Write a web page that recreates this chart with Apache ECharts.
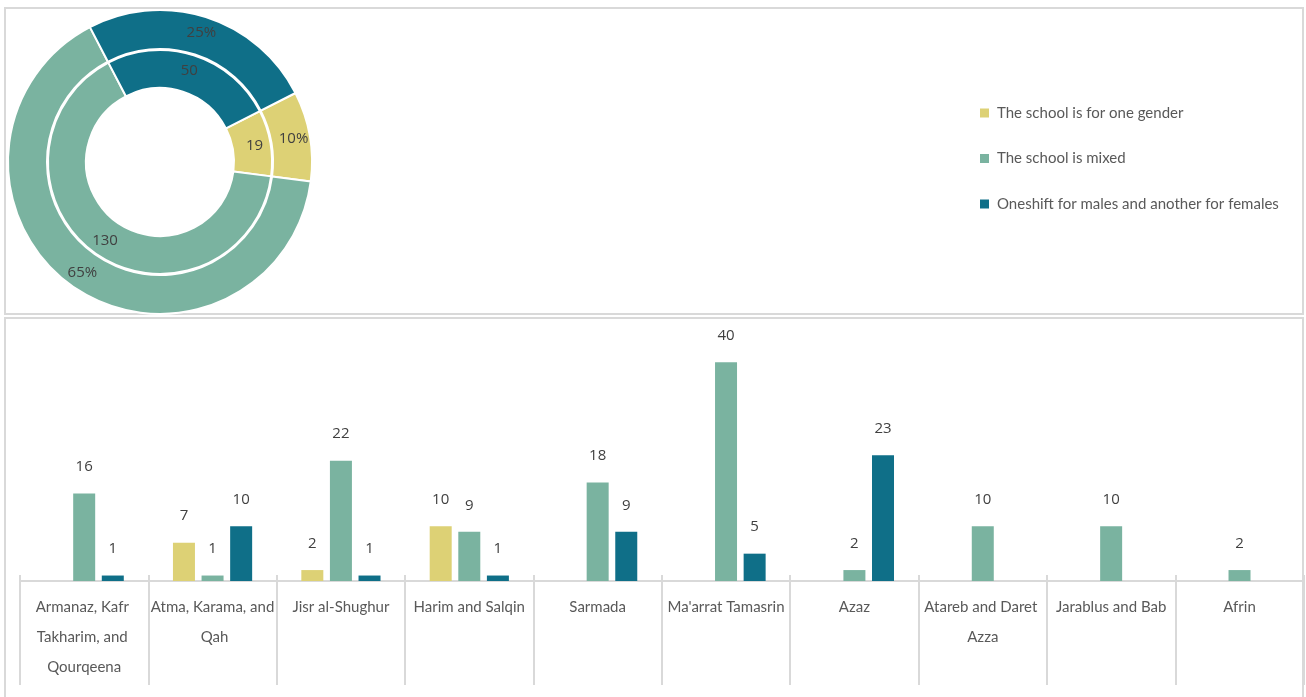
<!DOCTYPE html>
<html>
<head>
<meta charset="utf-8">
<script src="https://cdn.jsdelivr.net/npm/echarts@6/dist/echarts.min.js"></script>
<style>
  html, body { margin: 0; padding: 0; background: #fff; }
  #chart { width: 1306px; height: 697px; }
</style>
</head>
<body>
<div id="chart"></div>
<script>
// 学校类型 - series names and colours
var seriesNames = ['The school is for one gender', 'The school is mixed', 'Oneshift for males and another for females'];
var seriesColors = ['#DDD175', '#7AB3A0', '#0F6F88'];

// donut totals (inner ring counts, outer ring shows percent of the same)
var totals = [19, 130, 50];

// bar chart by area
var areas = ['Armanaz, Kafr Takharim, and Qourqeena', 'Atma, Karama, and Qah', 'Jisr al-Shughur', 'Harim and Salqin',
  'Sarmada', "Ma'arrat Tamasrin", 'Azaz', 'Atareb and Daret Azza', 'Jarablus and Bab', 'Afrin'];
var oneGender = [0, 7, 2, 10, 0, 0, 0, 0, 0, 0];
var mixed     = [16, 1, 22, 9, 18, 40, 2, 10, 10, 2];
var twoShifts = [1, 10, 1, 1, 9, 5, 23, 0, 0, 0];

var labelColor = '#404040';
var axisColor = '#D9D9D9';
var textColor = '#595959';

var myChart = echarts.init(document.getElementById('chart'));

var pieData = totals.map(function (v, i) {
  return { name: seriesNames[i], value: v, itemStyle: { color: seriesColors[i] } };
});

function barSeries(idx, data) {
  return {
    name: seriesNames[idx],
    type: 'bar',
    xAxisIndex: 0,
    yAxisIndex: 0,
    barWidth: 22,
    barGap: '30%',
    itemStyle: { color: seriesColors[idx] },
    label: {
      show: true,
      position: 'top',
      distance: 19,
      fontFamily: 'Open Sans',
      fontSize: 15,
      color: labelColor,
      formatter: function (p) { return p.value ? p.value : ''; }
    },
    data: data
  };
}

var option = {
  animation: false,
  backgroundColor: '#fff',
  graphic: [
    { type: 'rect', shape: { x: 5, y: 8, width: 1298, height: 306 },
      style: { fill: 'none', stroke: axisColor, lineWidth: 2 }, silent: true, z: -1 },
    { type: 'rect', shape: { x: 5, y: 318, width: 1298, height: 400 },
      style: { fill: 'none', stroke: axisColor, lineWidth: 2 }, silent: true, z: -1 }
  ],
  legend: {
    orient: 'vertical',
    left: 980,
    top: 105,
    padding: 0,
    itemWidth: 9,
    itemHeight: 9,
    itemGap: 29.5,
    icon: 'rect',
    data: seriesNames,
    textStyle: {
      fontFamily: 'Lato',
      fontSize: 15,
      lineHeight: 16,
      color: textColor,
      padding: [0, 0, 0, 3]
    }
  },
  grid: {
    left: 20,
    right: 2,
    top: 335,
    bottom: 116
  },
  xAxis: [
    {
      type: 'category',
      data: areas,
      axisLine: { show: true, lineStyle: { color: axisColor, width: 2 } },
      axisTick: { show: true, interval: 0, inside: false, length: 104, lineStyle: { color: axisColor, width: 2 } },
      axisLabel: {
        interval: 0,
        margin: 11,
        width: 127,
        overflow: 'break',
        lineHeight: 30,
        fontFamily: 'Lato',
        fontSize: 15,
        color: textColor
      }
    },
    {
      // short tick stubs above the axis line
      type: 'category',
      data: areas,
      position: 'bottom',
      axisLine: { show: false },
      axisTick: { show: true, interval: 0, inside: true, length: 6, lineStyle: { color: axisColor, width: 2 } },
      axisLabel: { show: false }
    }
  ],
  yAxis: {
    type: 'value',
    min: 0,
    max: 45,
    axisLine: { show: false },
    axisTick: { show: false },
    axisLabel: { show: false },
    splitLine: { show: false }
  },
  series: [
    {
      name: 'inner',
      type: 'pie',
      center: [160, 162],
      radius: [74, 112],
      startAngle: 27,
      itemStyle: { borderColor: '#fff', borderWidth: 2 },
      label: {
        show: true,
        position: 'inside',
        formatter: '{c}',
        fontFamily: 'Open Sans',
        fontSize: 15,
        color: labelColor
      },
      labelLine: { show: false },
      emphasis: { disabled: true },
      data: pieData
    },
    {
      name: 'outer',
      type: 'pie',
      center: [160, 162],
      radius: [113, 152],
      startAngle: 27,
      percentPrecision: 0,
      itemStyle: { borderColor: '#fff', borderWidth: 2 },
      label: {
        show: true,
        position: 'inside',
        formatter: '{d}%',
        fontFamily: 'Open Sans',
        fontSize: 15,
        color: labelColor
      },
      labelLine: { show: false },
      emphasis: { disabled: true },
      data: pieData
    },
    barSeries(0, oneGender),
    barSeries(1, mixed),
    barSeries(2, twoShifts)
  ]
};

myChart.setOption(option);
</script>
</body>
</html>
